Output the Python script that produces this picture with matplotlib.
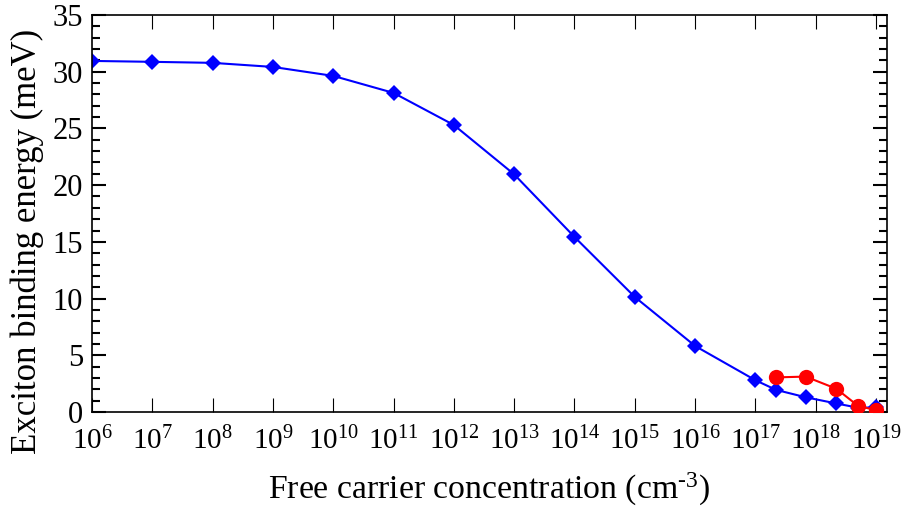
import matplotlib
matplotlib.use("Agg")
import matplotlib.pyplot as plt
from matplotlib.ticker import LogLocator, MultipleLocator, NullLocator

plt.rcParams['font.family'] = ['Liberation Serif', 'DejaVu Serif']
plt.rcParams['mathtext.fontset'] = 'custom'
plt.rcParams['mathtext.rm'] = 'Liberation Serif'
plt.rcParams['mathtext.it'] = 'Liberation Serif:italic'

# blue curve: binding energy vs free carrier concentration
blue_n = [1e6, 1e7, 1e8, 1e9, 1e10, 1e11, 1e12, 1e13, 1e14, 1e15, 1e16, 1e17,
          2.2e17, 6.8e17, 2.2e18, 5e18, 1e19]
blue_e = [30.95, 30.87, 30.78, 30.42, 29.63, 28.13, 25.3, 20.95, 15.43, 10.14,
          5.82, 2.8, 1.95, 1.3, 0.75, 0.38, 0.4]

# red points
red_n = [2.2e17, 6.8e17, 2.2e18, 5e18, 1e19]
red_e = [3.05, 3.12, 2.05, 0.55, 0.15]

fig = plt.figure(figsize=(9.04, 5.08), dpi=100)
ax = fig.add_axes([0.1018, 0.189, 0.879, 0.7815])

ax.plot(blue_n, blue_e, color='#0000ff', lw=1.5, marker='D', markersize=8.6,
        markeredgewidth=0, zorder=2)
ax.plot(red_n, red_e, color='#ff0000', lw=1.5, marker='o', markersize=11,
        markeredgewidth=0, zorder=3)

ax.set_xscale('log')
ax.set_xlim(1e6, 1.5e19)
ax.set_ylim(0, 35)

ax.xaxis.set_major_locator(LogLocator(base=10, numticks=20))
ax.xaxis.set_minor_locator(NullLocator())
ax.yaxis.set_major_locator(MultipleLocator(5))
ax.yaxis.set_minor_locator(MultipleLocator(1))

ax.tick_params(axis='both', which='both', direction='in', top=True, right=True)
ax.tick_params(axis='x', which='major', length=10, width=0.8, pad=11, labelsize=21)
ax.tick_params(axis='y', which='major', length=10, width=1.5, pad=6.5, labelsize=22)
ax.tick_params(axis='y', which='minor', length=5.5, width=1.5)
for s in ax.spines.values():
    s.set_linewidth(1.2)

ax.set_xlabel('Free carrier concentration (cm$^{\u20103}$)', fontsize=24.3, labelpad=11)
ax.set_ylabel('Exciton binding energy (meV)', fontsize=25)
# label sits a little below the axis centre in the original
ax.yaxis.set_label_coords(-0.061, 0.43)

fig.savefig('out.png', dpi=100)
